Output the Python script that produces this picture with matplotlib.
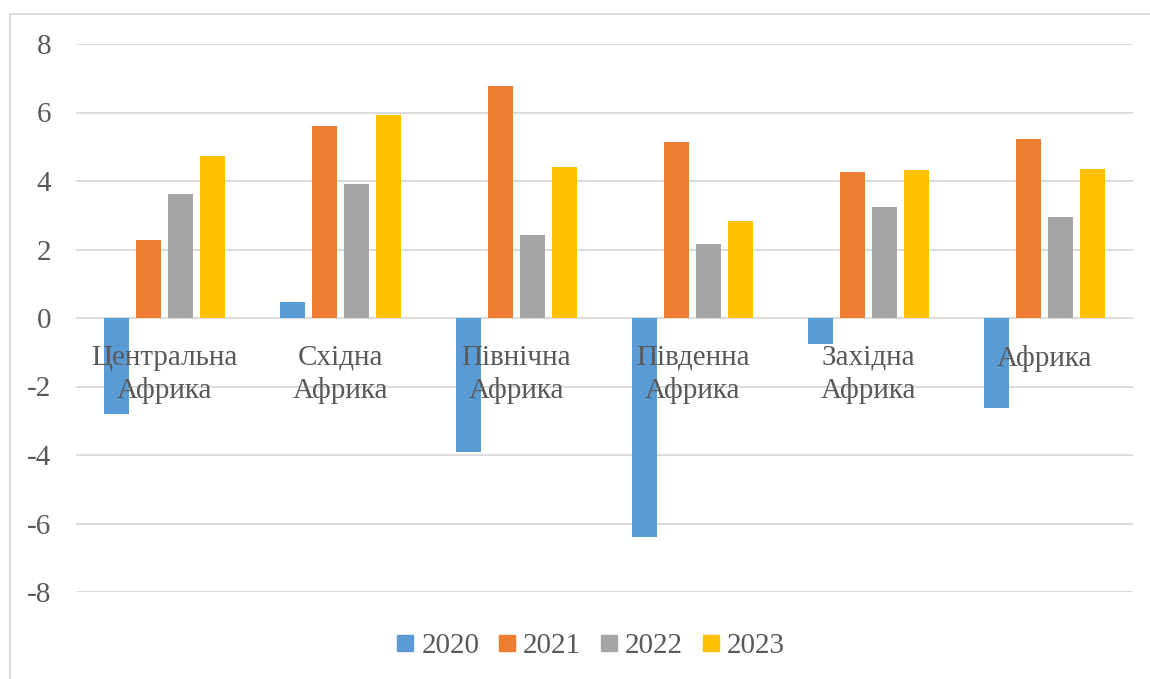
import matplotlib
matplotlib.use("Agg")
import matplotlib.pyplot as plt
from matplotlib.lines import Line2D
import numpy as np

categories = ["Центральна\nАфрика", "Східна\nАфрика", "Північна\nАфрика",
              "Південна\nАфрика", "Західна\nАфрика", "Африка"]
years = ["2020", "2021", "2022", "2023"]
v2020 = [-2.80, 0.48, -3.90, -6.40, -0.75, -2.62]
v2021 = [2.27, 5.62, 6.76, 5.13, 4.25, 5.22]
v2022 = [3.62, 3.90, 2.42, 2.16, 3.24, 2.96]
v2023 = [4.72, 5.92, 4.42, 2.82, 4.31, 4.35]
series = [v2020, v2021, v2022, v2023]
colors = ["#5B9BD5", "#ED7D31", "#A5A5A5", "#FFC000"]
yticks = [-8, -6, -4, -2, 0, 2, 4, 6, 8]

plt.rcParams['font.family'] = ['Liberation Serif', 'DejaVu Serif']
W, H = 1150, 679
fig = plt.figure(figsize=(W/100, H/100), dpi=100)
ax = fig.add_axes([76/W, (H-592)/H, (1133-76)/W, (592-44)/H])

x = np.arange(len(categories))
bw = 25/176
step = 32/176
for i, (vals, c, yr) in enumerate(zip(series, colors, years)):
    ax.bar(x + (i-1.5)*step, vals, width=bw, color=c, label=yr, zorder=2)

ax.set_xlim(-0.5, len(categories)-0.5)
ax.set_ylim(-8, 8)
ax.set_yticks(yticks)
ax.set_yticklabels([str(t) for t in yticks])
ax.yaxis.grid(True, color="#D9D9D9", linewidth=1.3, zorder=0)
ax.set_axisbelow(True)
ax.tick_params(axis='y', length=0, pad=18, labelsize=21, labelcolor="#595959")
ax.set_xticks([])
for s in ax.spines.values():
    s.set_visible(False)

for xi, lab in zip(x, categories):
    if "\n" not in lab:
        lab = lab + "\n"
    ax.text(xi, -1.64, lab, ha='center', va='center', fontsize=21,
            color="#595959", linespacing=1.3, zorder=5)

handles = [Line2D([0], [0], marker='s', linestyle='none', markersize=11,
                  markerfacecolor=c, markeredgecolor=c) for c in colors]
fig.legend(handles, years, loc='center', bbox_to_anchor=(590/W, 1-646/H),
           ncol=4, frameon=False, fontsize=21, handlelength=0.7,
           handletextpad=0.2, columnspacing=0.6, labelcolor="#595959")

fig.add_artist(Line2D([9.5/W, 9.5/W], [0, 1-13.5/H], transform=fig.transFigure,
                      color="#D9D9D9", linewidth=1.3))
fig.add_artist(Line2D([9.5/W, 1.0], [1-13.5/H, 1-13.5/H], transform=fig.transFigure,
                      color="#D9D9D9", linewidth=1.3))

fig.savefig("out.png", dpi=100)
